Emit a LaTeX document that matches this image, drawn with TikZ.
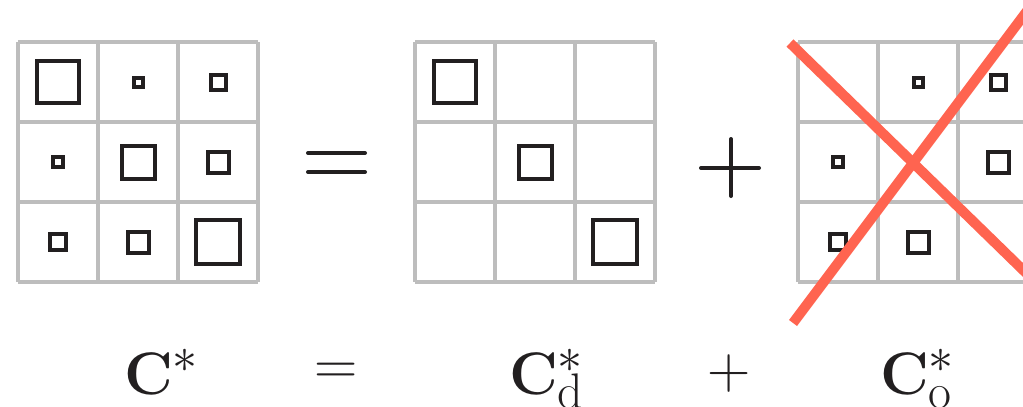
\RequirePackage{fix-cm}
\documentclass[tikz,border=0pt]{standalone}
\DeclareMathSizes{60}{60}{50}{40}
\definecolor{gridgray}{RGB}{189,189,189}
\definecolor{ink}{RGB}{34,31,32}
\definecolor{redx}{RGB}{255,100,80}
\begin{document}
\begin{tikzpicture}[x=1pt,y=-1pt,
  gridline/.style={draw=gridgray, line width=3.5pt},
  sq/.style={draw=ink, line width=4pt, minimum size=#1, inner sep=0pt, outer sep=0pt},
  opline/.style={draw=ink, line width=4pt, line cap=round},
  crossline/.style={draw=redx, line width=10pt},
  lbl/.style={inner sep=0pt, outer sep=0pt, text=ink, font=\fontsize{60}{72}\selectfont}]
\clip (0,0) rectangle (1023,407);
\useasboundingbox (0,0) rectangle (1023,407);
\fill[white] (0,0) rectangle (1023,407);

% grids
\foreach \xo in {18,415,798}{
  \foreach \k in {0,1,2,3}{
    \draw[gridline] (\xo+80*\k,42) -- (\xo+80*\k,282);
    \draw[gridline] (\xo,42+80*\k) -- (\xo+240,42+80*\k);
  }
}

% grid 1: full matrix
\node[sq=42pt] (a11) at (58,82) {};
\node[sq=9pt]  (a12) at (138,82) {};
\node[sq=15pt] (a13) at (218,82) {};
\node[sq=10pt] (a21) at (58,162) {};
\node[sq=33pt] (a22) at (138,162) {};
\node[sq=21pt] (a23) at (218,162) {};
\node[sq=16pt] (a31) at (58,242) {};
\node[sq=21pt] (a32) at (138,242) {};
\node[sq=44pt] (a33) at (218,242) {};

% grid 2: diagonal
\node[sq=42pt] (b11) at (455,82) {};
\node[sq=33pt] (b22) at (535,162) {};
\node[sq=44pt] (b33) at (615,242) {};

% grid 3: off-diagonal
\node[sq=9pt]  (c12) at (918,82) {};
\node[sq=15pt] (c13) at (998,82) {};
\node[sq=10pt] (c21) at (838,162) {};
\node[sq=21pt] (c23) at (998,162) {};
\node[sq=16pt] (c31) at (838,242) {};
\node[sq=21pt] (c32) at (918,242) {};

% big operators
\draw[opline] (308,153) -- (365,153);
\draw[opline] (308,172) -- (365,172);
\draw[opline] (701,168) -- (759,168);
\draw[opline] (731,139) -- (731,196);

% red cross
\coordinate (x1a) at (790,43);
\coordinate (x1b) at (1060,306);
\coordinate (x2a) at (793,323);
\coordinate (x2b) at (1045,-13);
\draw[crossline] (x1a) -- (x1b);
\draw[crossline] (x2a) -- (x2b);

% labels
\node[lbl, anchor=base west] (lc) at (124,394) {$\mathbf{C}^*$};
\node[lbl, anchor=base] (leq) at (336,384) {$=$};
\node[lbl, anchor=base west] (lcd) at (509,394) {$\mathbf{C}^*_{\mathrm{d}}$};
\node[lbl, anchor=base] (lplus) at (729,388) {$+$};
\node[lbl, anchor=base west] (lco) at (880,394) {$\mathbf{C}^*_{\mathrm{o}}$};
\end{tikzpicture}
\end{document}
